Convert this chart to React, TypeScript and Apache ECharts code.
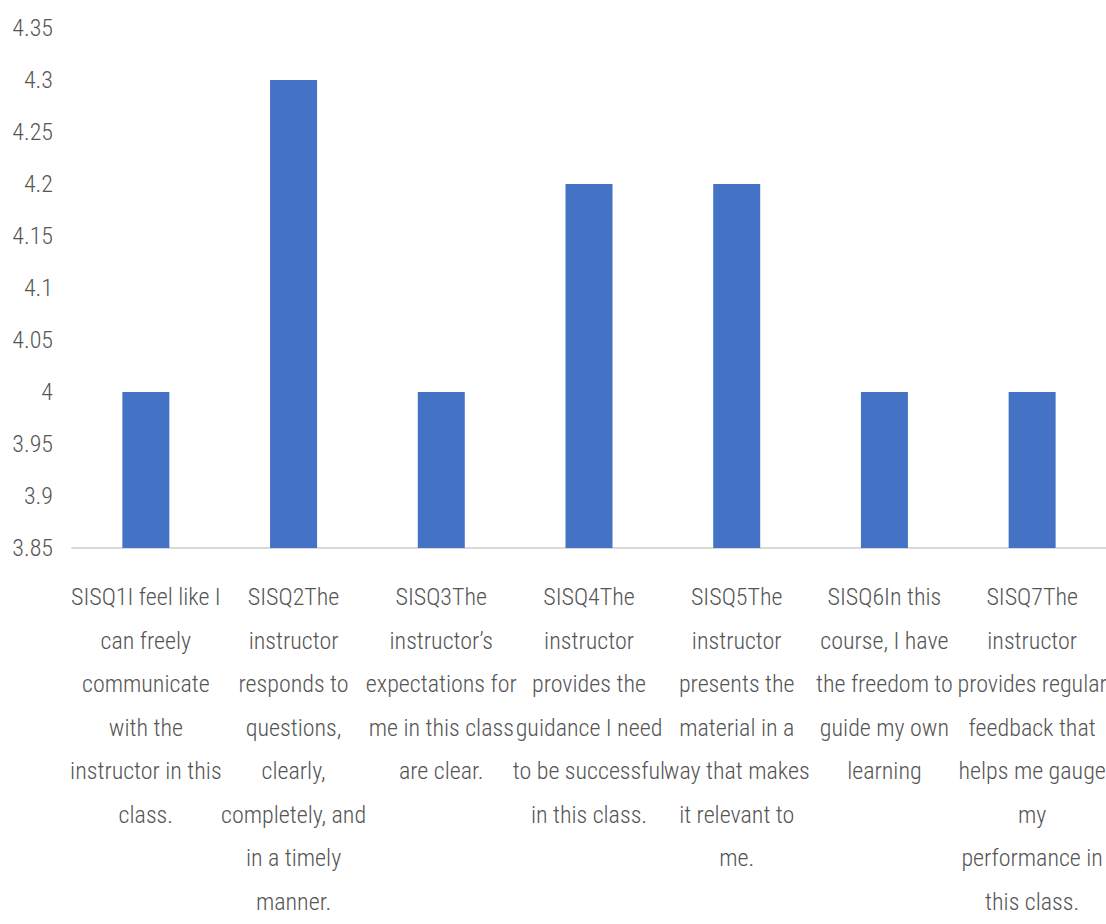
import React, { useEffect, useRef } from "react";
import * as echarts from "echarts";

const categories: string[] = [
  "SISQ1I feel like I\ncan freely\ncommunicate\nwith the\ninstructor in this\nclass.",
  "SISQ2The\ninstructor\nresponds to\nquestions,\nclearly,\ncompletely, and\nin a timely\nmanner.",
  "SISQ3The\ninstructor’s\nexpectations for\nme in this class\nare clear.",
  "SISQ4The\ninstructor\nprovides the\nguidance I need\nto be successful\nin this class.",
  "SISQ5The\ninstructor\npresents the\nmaterial in a\nway that makes\nit relevant to\nme.",
  "SISQ6In this\ncourse, I have\nthe freedom to\nguide my own\nlearning",
  "SISQ7The\ninstructor\nprovides regular\nfeedback that\nhelps me gauge\nmy\nperformance in\nthis class.",
];

const scores: number[] = [4, 4.3, 4, 4.2, 4.2, 4, 4];

const yMin = 3.85;
const yMax = 4.35;
const yStep = 0.05;

const FONT = "'Roboto Condensed', 'Open Sans', sans-serif";

export default function App() {
  const ref = useRef<HTMLDivElement>(null);

  useEffect(() => {
    document.body.style.margin = "0";
    document.documentElement.style.overflow = "hidden";
    if (!ref.current) return;
    const chart = echarts.init(ref.current, undefined, { renderer: "svg" });
    chart.setOption({
      animation: false,
      backgroundColor: "#ffffff",
      grid: {
        left: 72,
        right: 0,
        top: 28,
        bottom: 376,
        containLabel: false,
        outerBoundsMode: "none",
      },
      xAxis: {
        type: "category",
        data: categories,
        axisLine: { show: true, lineStyle: { color: "#d9d9d9", width: 2 } },
        axisTick: { show: false },
        axisLabel: {
          interval: 0,
          margin: 27.5,
          color: "#555555",
          fontFamily: FONT,
          fontWeight: 300,
          fontSize: 24,
          lineHeight: 43.5,
          align: "center",
        },
      },
      yAxis: {
        type: "value",
        min: yMin,
        max: yMax,
        interval: yStep,
        splitLine: { show: false },
        axisLine: { show: false },
        axisTick: { show: false },
        axisLabel: {
          margin: 19,
          color: "#555555",
          fontFamily: FONT,
          fontWeight: 300,
          fontSize: 24,
          formatter: (v: number) => String(+v.toFixed(2)),
        },
      },
      series: [
        {
          type: "bar",
          data: scores,
          barWidth: 47,
          itemStyle: { color: "#4472c4" },
        },
      ],
    });
    return () => chart.dispose();
  }, []);

  return (
    <div
      ref={ref}
      style={{ position: "fixed", left: 0, top: 0, width: 1106, height: 924 }}
    />
  );
}
